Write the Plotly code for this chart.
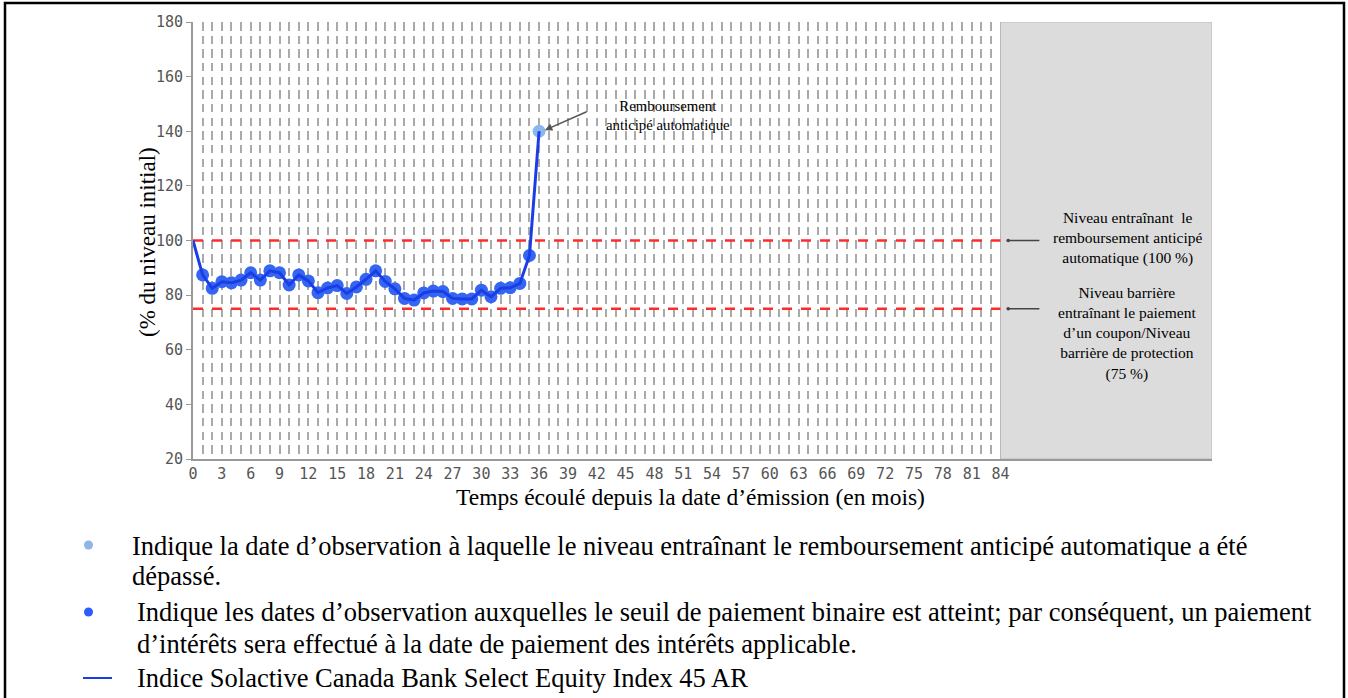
import plotly.graph_objects as go

# ---- data ----
months = list(range(0, 37))
index_level = [100, 87.4, 82.5, 84.9, 84.5, 85.5, 88.2, 85.5, 88.9, 88.2,
               83.7, 87.4, 85.2, 80.9, 82.6, 83.5, 80.6, 83.0, 85.8, 88.9,
               85.0, 82.3, 78.8, 78.2, 80.8, 81.5, 81.3, 78.8, 78.6, 78.6,
               81.8, 79.4, 82.5, 82.7, 84.3, 94.5, 140]
coupon_months = months[1:36]
coupon_levels = index_level[1:36]
autocall_month = [36]
autocall_level = [140]
autocall_barrier = 100
coupon_barrier = 75
last_month = 84
x_end = 106
tick_vals = list(range(0, last_month + 1))
tick_text = [str(v) if v % 3 == 0 else "" for v in tick_vals]

W, H = 1348, 698
L, R, T, B = 193, 136, 22, 239
PW, PH = W - L - R, H - T - B


def pxx(px):
    return (px - L) / PW


def pxy(py):
    return (H - B - py) / PH


SERIF = "Liberation Serif"
MONO = "DejaVu Sans Mono"


def serif(size):
    return dict(family=SERIF, size=size, color="black")


fig = go.Figure()

fig.add_trace(go.Scatter(x=coupon_months, y=coupon_levels, mode="markers",
                         marker=dict(size=13, color="#3566f2"),
                         showlegend=False, hoverinfo="skip"))
fig.add_trace(go.Scatter(x=autocall_month, y=autocall_level, mode="markers",
                         marker=dict(size=13, color="#8cb6ef"),
                         showlegend=False, hoverinfo="skip"))
fig.add_trace(go.Scatter(x=months, y=index_level, mode="lines",
                         line=dict(color="#1a3de6", width=3),
                         showlegend=False))

# gray zone beyond maturity
fig.add_shape(type="rect", x0=last_month, x1=x_end, y0=20, y1=180,
              fillcolor="#dcdcdc", line=dict(color="#b8b8b8", width=1),
              layer="between")
# barrier lines
for lvl in (autocall_barrier, coupon_barrier):
    fig.add_shape(type="line", x0=0, x1=last_month, y0=lvl, y1=lvl,
                  line=dict(color="#ff2b2b", width=2.5, dash="10px,9px"),
                  layer="between")

# outer frame
fig.add_shape(type="rect", xref="paper", yref="paper",
              x0=pxx(5), x1=pxx(1344), y0=pxy(702), y1=pxy(3),
              line=dict(color="black", width=2.5), fillcolor="rgba(0,0,0,0)")

# annotations inside chart
fig.add_annotation(x=36.6, y=140.4, ax=41.1, ay=147.4, axref="x", ayref="y",
                   text="", showarrow=True, arrowhead=2, arrowsize=1,
                   arrowwidth=1.5, arrowcolor="#555555")
fig.add_annotation(x=49.4, y=145.9, xanchor="center", yanchor="middle",
                   text="Remboursement<br>anticipé automatique",
                   showarrow=False, font=serif(14.8))

fig.add_annotation(x=84.8, y=autocall_barrier, ax=88.2, ay=autocall_barrier,
                   axref="x", ayref="y", text="", showarrow=True, arrowhead=6,
                   arrowsize=0.6, arrowwidth=1.5, arrowcolor="#444444")
fig.add_annotation(x=84.8, y=coupon_barrier, ax=88.2, ay=coupon_barrier,
                   axref="x", ayref="y", text="", showarrow=True, arrowhead=6,
                   arrowsize=0.6, arrowwidth=1.5, arrowcolor="#444444")
fig.add_annotation(xref="paper", yref="paper", x=pxx(1127), y=pxy(238),
                   xanchor="center", yanchor="middle",
                   text="Niveau entraînant  le<br>remboursement anticipé<br>automatique (100 %)",
                   showarrow=False, font=serif(15.5))
fig.add_annotation(xref="paper", yref="paper", x=pxx(1127), y=pxy(333),
                   xanchor="center", yanchor="middle",
                   text="Niveau barrière<br>entraînant le paiement<br>d’un coupon/Niveau<br>barrière de protection<br>(75 %)",
                   showarrow=False, font=serif(15.5))

# axis titles
fig.add_annotation(xref="paper", yref="paper", x=pxx(690), y=pxy(497),
                   xanchor="center", yanchor="middle",
                   text="Temps écoulé depuis la date d’émission (en mois)",
                   showarrow=False, font=serif(23.5))
fig.add_annotation(xref="paper", yref="paper", x=pxx(148), y=pxy(242),
                   xanchor="center", yanchor="middle",
                   text="(% du niveau initial)", textangle=-90,
                   showarrow=False, font=serif(23))

# legend / notes
legend_lines = [
    (130, 546, "Indique la date d’observation à laquelle le niveau entraînant le remboursement anticipé automatique a été"),
    (130, 576, "dépassé."),
    (135, 612, "Indique les dates d’observation auxquelles le seuil de paiement binaire est atteint; par conséquent, un paiement"),
    (135, 644, "d’intérêts sera effectué à la date de paiement des intérêts applicable."),
    (135, 678, "Indice Solactive Canada Bank Select Equity Index 45 AR"),
]
for px, py, txt in legend_lines:
    fig.add_annotation(xref="paper", yref="paper", x=pxx(px), y=pxy(py),
                       xanchor="left", yanchor="middle", text=txt,
                       showarrow=False, font=serif(26.5))

fig.add_shape(type="circle", xref="paper", yref="paper",
              x0=pxx(84), x1=pxx(93), y0=pxy(549.5), y1=pxy(540.5),
              fillcolor="#8fb5e6", line=dict(width=0))
fig.add_shape(type="circle", xref="paper", yref="paper",
              x0=pxx(84), x1=pxx(93), y0=pxy(616.5), y1=pxy(607.5),
              fillcolor="#2a5cff", line=dict(width=0))
fig.add_shape(type="line", xref="paper", yref="paper",
              x0=pxx(83), x1=pxx(112), y0=pxy(678), y1=pxy(678),
              line=dict(color="#1a3de6", width=2))

fig.update_xaxes(range=[0, x_end], tickmode="array", tickvals=tick_vals,
                 ticktext=tick_text, showgrid=True, gridcolor="#aaaaaa",
                 gridwidth=2, griddash="8.5px,5.15px", showline=True,
                 linecolor="#999999", linewidth=2, ticks="", zeroline=False,
                 tickfont=dict(family=MONO, size=15, color="#555555"),
                 tickangle=0)
fig.update_yaxes(range=[20, 180], dtick=20, showgrid=False, showline=True,
                 linecolor="#999999", linewidth=2, ticks="outside", ticklen=5,
                 tickcolor="#999999", zeroline=False,
                 tickfont=dict(family=MONO, size=15, color="#555555"))

fig.update_layout(width=W, height=H, margin=dict(l=L, r=R, t=T, b=B),
                  plot_bgcolor="white", paper_bgcolor="white",
                  showlegend=False)

fig.write_html("out.html", config={"displayModeBar": False},
               post_script="document.body.style.margin='0';document.body.style.overflow='hidden';")
